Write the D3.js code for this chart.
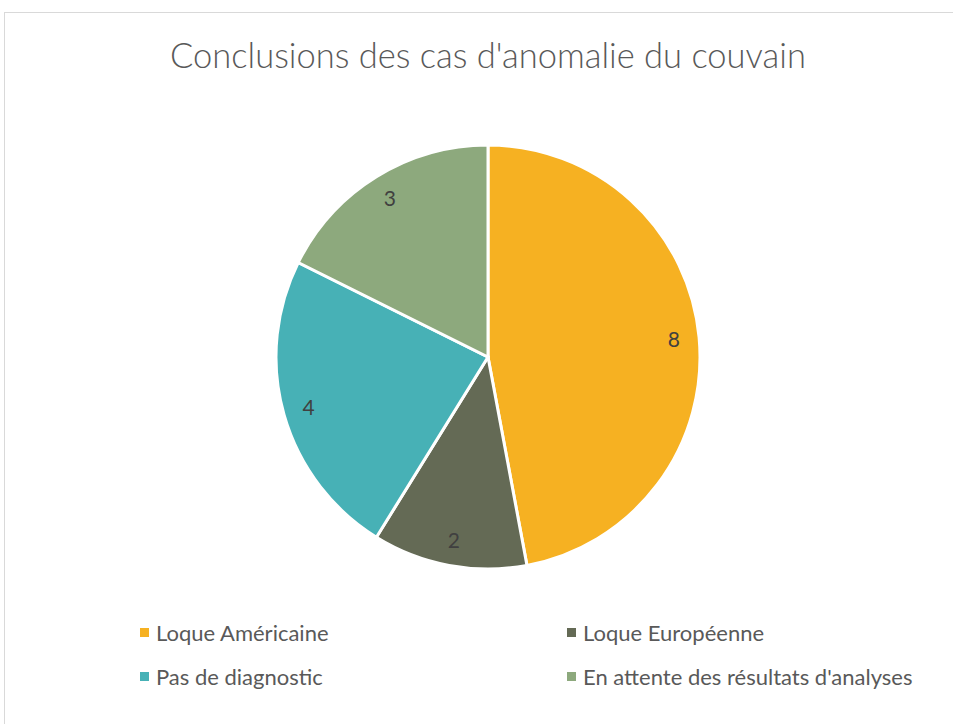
<!DOCTYPE html>
<html>
<head>
<meta charset="utf-8">
<script src="https://cdn.jsdelivr.net/npm/d3@7"></script>
<style>
  body { margin: 0; background: #fff; }
  svg { font-family: "Lato", "Open Sans", sans-serif; }
</style>
</head>
<body>
<svg id="chart" width="953" height="724"></svg>
<script>
const categories = ["Loque Américaine", "Loque Européenne", "Pas de diagnostic", "En attente des résultats d'analyses"];
const values = [8, 2, 4, 3];
const colors = ["#F6B122", "#646A55", "#47B1B6", "#8DA97D"];
const title = "Conclusions des cas d'anomalie du couvain";

const width = 953, height = 724;
const cx = 488, cy = 357, radius = 212;

const svg = d3.select('#chart');

// cadre
svg.append('rect')
    .attr('x', 4.5).attr('y', 12.5)
    .attr('width', width + 10).attr('height', height + 10)
    .attr('fill', 'none')
    .attr('stroke', '#d9d9d9');

svg.append('text')
    .attr('x', cx).attr('y', 68)
    .attr('text-anchor', 'middle')
    .attr('font-size', 34.5)
    .attr('font-weight', 300)
    .attr('fill', '#595959')
    .text(title);

const pie = d3.pie().sort(null).value(d => d);
const arcs = pie(values);
const arc = d3.arc().innerRadius(0).outerRadius(radius);
const labelArc = d3.arc().innerRadius(radius * 0.88).outerRadius(radius * 0.88);

const g = svg.append('g').attr('transform', `translate(${cx},${cy})`);

g.selectAll('path')
    .data(arcs)
    .enter().append('path')
        .attr('d', arc)
        .attr('fill', (d, i) => colors[i])
        .attr('stroke', '#fff')
        .attr('stroke-width', 3);

g.selectAll('text')
    .data(arcs)
    .enter().append('text')
        .attr('transform', d => `translate(${labelArc.centroid(d)})`)
        .attr('text-anchor', 'middle')
        .attr('dy', '0.35em')
        .attr('font-size', 21)
        .attr('fill', '#404040')
        .text(d => d.data);

// légende
const legendX = [140, 567], legendY = [633, 677];
const legend = svg.selectAll('.legend')
    .data(categories)
    .enter().append('g')
        .attr('class', 'legend')
        .attr('transform', (d, i) => `translate(${legendX[i % 2]},${legendY[Math.floor(i / 2)]})`);

legend.append('rect')
    .attr('x', 0).attr('y', -5)
    .attr('width', 9).attr('height', 9)
    .attr('fill', (d, i) => colors[i]);

legend.append('text')
    .attr('x', 16)
    .attr('dy', '0.35em')
    .attr('font-size', 22)
    .attr('fill', '#595959')
    .text(d => d);
</script>
</body>
</html>
